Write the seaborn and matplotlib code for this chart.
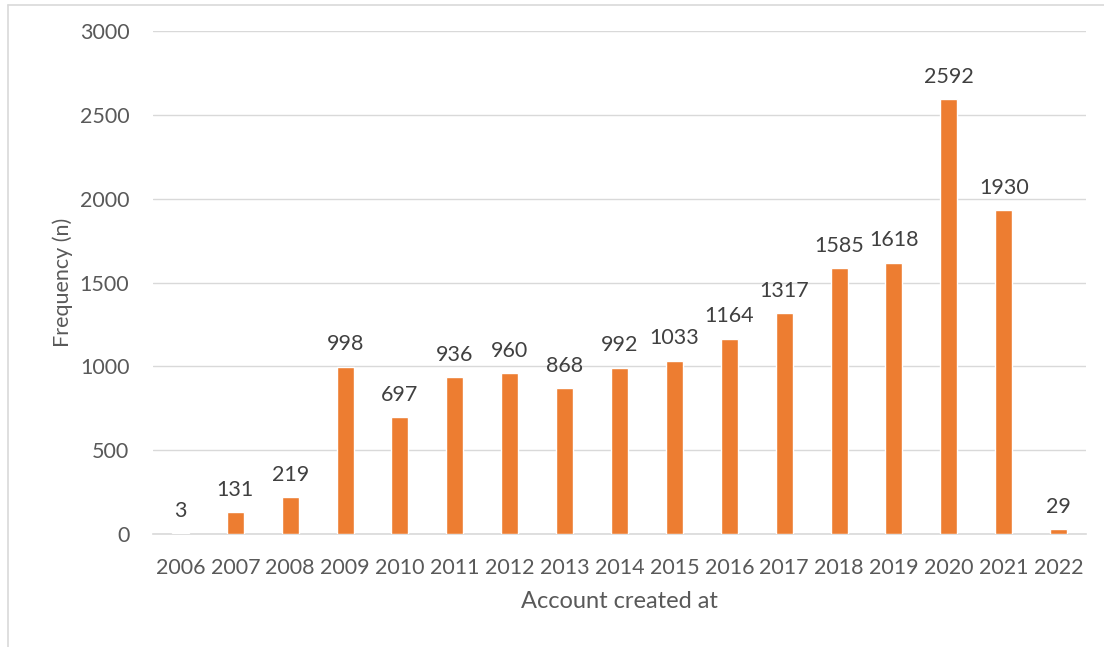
import matplotlib
matplotlib.use("Agg")
import matplotlib.pyplot as plt
from matplotlib.lines import Line2D
import seaborn as sns
import pandas as pd

years = ["2006", "2007", "2008", "2009", "2010", "2011", "2012", "2013", "2014",
         "2015", "2016", "2017", "2018", "2019", "2020", "2021", "2022"]
counts = [3, 131, 219, 998, 697, 936, 960, 868, 992,
          1033, 1164, 1317, 1585, 1618, 2592, 1930, 29]

df = pd.DataFrame({"year": years, "count": counts})

sns.set_theme(style="white")
plt.rcParams["font.family"] = ["Lato", "DejaVu Sans"]

text_color = "#595959"
bar_color = "#ED7D31"
fs = 15.5

fig = plt.figure(figsize=(11.04, 6.47), dpi=100)
ax = fig.add_axes([0.1386, 0.1747, 0.8451, 0.7773])

sns.barplot(data=df, x="year", y="count", color=bar_color, width=0.31,
            saturation=1, ax=ax, zorder=3)

ax.set_ylim(0, 3000)
ax.set_yticks(range(0, 3001, 500))
ax.set_xlim(-0.5, len(years) - 0.5)
ax.yaxis.grid(True, color="#D9D9D9", linewidth=1, zorder=0)
ax.xaxis.grid(False)
for side in ["top", "right", "left"]:
    ax.spines[side].set_visible(False)
ax.spines["bottom"].set_color("#D9D9D9")
ax.spines["bottom"].set_linewidth(1.2)
ax.tick_params(axis="both", length=0, labelsize=fs, colors=text_color)
ax.tick_params(axis="x", pad=17)
ax.tick_params(axis="y", pad=17)

for i, v in enumerate(counts):
    ax.annotate(str(v), (i, v), xytext=(0, 9), textcoords="offset points",
                ha="center", va="bottom", fontsize=fs, color="#404040")

ax.set_xlabel("Account created at", fontsize=17, color=text_color)
ax.set_ylabel("Frequency (n)", fontsize=fs, color=text_color)
ax.xaxis.set_label_coords(0.5, -0.114)
ax.yaxis.set_label_coords(-0.086, 0.5)

# outer chart frame
fig.add_artist(Line2D([8 / 1104, 8 / 1104], [0, 1 - 5 / 647],
                      transform=fig.transFigure, color="#D9D9D9", linewidth=1.2))
fig.add_artist(Line2D([8 / 1104, 1], [1 - 5 / 647, 1 - 5 / 647],
                      transform=fig.transFigure, color="#D9D9D9", linewidth=1.2))

fig.savefig("out.png", dpi=100)
